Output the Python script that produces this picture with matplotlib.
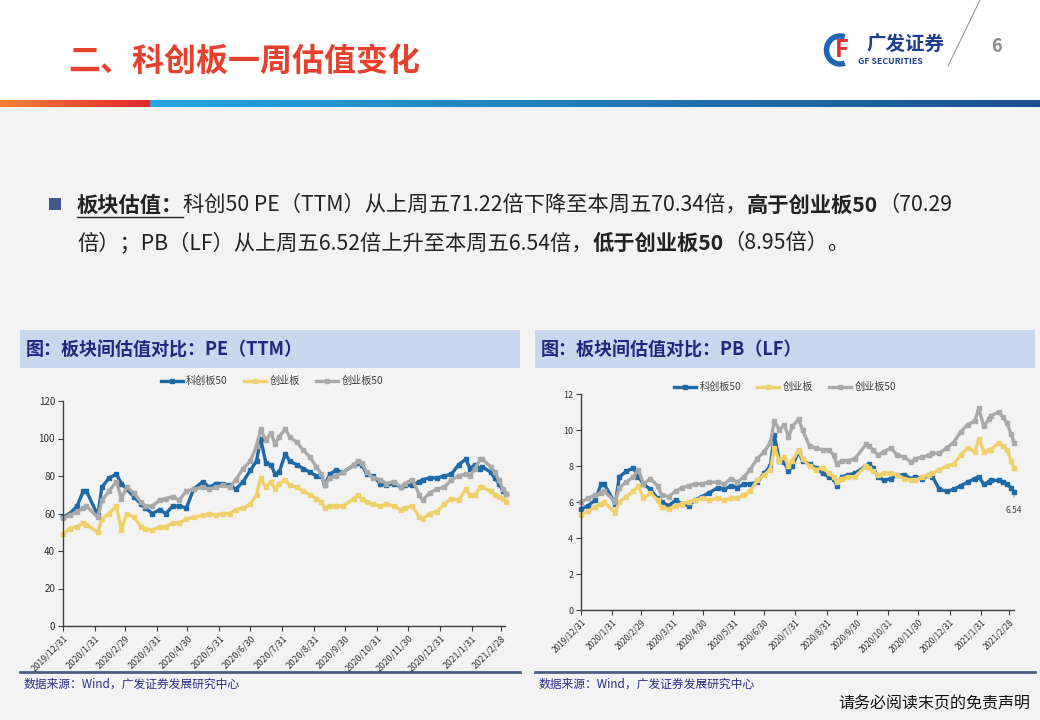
import matplotlib
matplotlib.use("Agg")
import matplotlib.pyplot as plt
import numpy as np
import pandas as pd
from matplotlib.patches import Rectangle, Arc

plt.rcParams['font.family'] = ['Noto Sans CJK SC', 'DejaVu Sans']

# ---- data (weekly-ish samples) ----
dates = ['2019-12-31', '2020-01-07', '2020-01-14', '2020-01-20', '2020-01-23', '2020-02-03',
         '2020-02-07', '2020-02-14', '2020-02-21', '2020-02-26', '2020-03-02', '2020-03-09',
         '2020-03-16', '2020-03-20', '2020-03-27', '2020-04-03', '2020-04-09', '2020-04-16',
         '2020-04-22', '2020-04-29', '2020-05-06', '2020-05-15', '2020-05-21', '2020-05-28',
         '2020-06-03', '2020-06-10', '2020-06-16', '2020-06-23', '2020-06-30', '2020-07-06',
         '2020-07-10', '2020-07-15', '2020-07-20', '2020-07-24', '2020-07-28', '2020-08-03',
         '2020-08-07', '2020-08-14', '2020-08-20', '2020-08-27', '2020-09-02', '2020-09-07',
         '2020-09-10', '2020-09-15', '2020-09-21', '2020-09-28', '2020-10-09', '2020-10-12',
         '2020-10-16', '2020-10-21', '2020-10-27', '2020-11-03', '2020-11-09', '2020-11-16',
         '2020-11-23', '2020-11-27', '2020-12-04', '2020-12-11', '2020-12-14', '2020-12-21',
         '2020-12-28', '2021-01-04', '2021-01-11', '2021-01-18', '2021-01-25', '2021-01-29',
         '2021-02-03', '2021-02-08', '2021-02-10', '2021-02-18', '2021-02-22', '2021-02-26',
         '2021-03-02', '2021-03-05']

pe_kc50 = [58, 60, 64, 72, 72, 59, 74, 79, 81, 76, 73, 69, 65, 63, 60, 62, 60, 64, 64, 63,
           73, 77, 74, 76, 76, 75, 73, 77, 83, 88, 100, 87, 86, 81, 82, 92, 88, 86, 84, 82,
           80, 80, 75, 81, 83, 82, 86, 87, 86, 81, 80, 76, 75, 76, 74, 75, 75, 77, 78, 79,
           79, 80, 81, 86, 89, 84, 86, 84, 85, 82, 79, 76, 72, 70.34]
pe_cyb = [49, 52, 53, 55, 54, 50, 57, 60, 64, 51, 60, 58, 53, 52, 51, 53, 53, 55, 55, 57,
          58, 59, 60, 59, 60, 60, 62, 63, 65, 70, 79, 74, 77, 73, 76, 78, 75, 74, 72, 70,
          68, 66, 63, 64, 64, 64, 68, 70, 68, 66, 65, 64, 65, 64, 62, 63, 64, 58, 57, 60,
          61, 65, 68, 67, 73, 70, 70, 74, 74, 72, 70, 69, 68, 66]
pe_cyb50 = [57.5, 59, 61, 63, 64, 58, 67, 72, 77, 68, 74, 71, 66, 64, 64, 67, 68, 69, 67, 72,
            73, 74, 73, 74, 75, 74, 78, 84, 88, 96, 105, 99, 103, 97, 101, 105, 101, 98, 94, 90,
            85, 81, 75, 79, 80, 82, 86, 88, 87, 82, 79, 78, 76, 77, 74, 76, 78, 70, 67, 71,
            73, 74, 78, 80, 81, 80, 84, 89, 89, 85, 82, 78, 73, 70.3]

pb_kc50 = [5.6, 5.8, 6.1, 7.0, 7.0, 5.9, 7.4, 7.7, 7.9, 7.4, 7.0, 6.7, 6.2, 6.0, 5.8, 6.1, 5.9,
           5.8, 6.1, 6.3, 6.5, 6.8, 6.7, 6.9, 6.8, 7.0, 7.0, 7.1, 7.6, 8.0, 9.7, 8.3, 8.2, 7.7,
           8.0, 8.8, 8.3, 8.1, 7.9, 7.6, 7.4, 7.3, 6.9, 7.4, 7.5, 7.6, 8.0, 8.1, 7.9, 7.4, 7.2,
           7.3, 7.5, 7.5, 7.3, 7.4, 7.3, 7.5, 7.4, 6.7, 6.6, 6.7, 6.9, 7.1, 7.3, 7.4, 7.0, 7.1,
           7.2, 7.2, 7.1, 7.0, 6.8, 6.54]
pb_cyb = [5.3, 5.5, 5.7, 5.9, 6.0, 5.4, 6.0, 6.3, 6.6, 6.9, 6.2, 6.5, 6.1, 5.7, 5.6, 5.8, 5.9,
          6.0, 6.1, 6.2, 6.1, 6.2, 6.1, 6.2, 6.2, 6.4, 6.6, 7.2, 7.5, 7.8, 9.0, 8.3, 8.5, 8.0,
          8.3, 8.9, 8.4, 8.0, 7.8, 7.9, 7.6, 7.4, 7.1, 7.3, 7.4, 7.4, 8.0, 7.9, 7.7, 7.5, 7.6,
          7.6, 7.5, 7.3, 7.2, 7.2, 7.4, 7.5, 7.6, 7.8, 8.0, 8.1, 8.6, 9.0, 8.8, 9.5, 8.8, 8.9,
          8.9, 9.3, 9.1, 8.9, 8.3, 7.9]
pb_cyb50 = [6.0, 6.2, 6.4, 6.5, 6.6, 6.0, 6.8, 7.1, 7.4, 7.8, 7.0, 7.3, 6.9, 6.4, 6.3, 6.6, 6.8,
            6.9, 7.0, 7.0, 7.1, 7.1, 7.0, 7.3, 7.1, 7.4, 7.8, 8.4, 8.8, 9.3, 10.5, 10.0, 10.3, 9.6,
            10.2, 10.6, 10.0, 9.1, 9.0, 8.9, 8.9, 8.6, 8.1, 8.3, 8.3, 8.4, 9.2, 9.1, 8.9, 8.6, 8.8,
            9.0, 8.6, 8.5, 8.2, 8.4, 8.5, 8.6, 8.7, 8.7, 9.0, 9.3, 9.9, 10.3, 10.5, 11.2, 10.2, 10.6,
            10.8, 11.0, 10.7, 10.4, 9.8, 9.3]

series_names = ['科创板50', '创业板', '创业板50']
series_colors = ['#1f6aa6', '#efd06a', '#a9a9a9']

tick_dates = pd.date_range('2019-12-31', '2021-02-28', freq='ME')
tick_labels = [f"{d.year}/{d.month}/{d.day}" for d in tick_dates]

x = pd.to_datetime(dates)

W, H = 1040, 720
fig = plt.figure(figsize=(W / 100, H / 100), dpi=100)
fig.patch.set_facecolor('#f3f3f3')

# slide background in pixel coordinates
bg = fig.add_axes([0, 0, 1, 1], zorder=0)
bg.set_xlim(0, W)
bg.set_ylim(H, 0)
bg.axis('off')

bg.add_patch(Rectangle((0, 0), W, 100, color='white', lw=0))

# colour bar under the header
def hex2rgb(h):
    return np.array([int(h[i:i + 2], 16) / 255 for i in (1, 3, 5)])

cols = []
for px in range(W):
    if px < 150:
        t = px / 150
        c = (1 - t) * hex2rgb('#f38238') + t * hex2rgb('#e2282c')
    else:
        t = (px - 150) / (W - 150)
        c = (1 - t) * hex2rgb('#27a5df') + t * hex2rgb('#1d4f8f')
    cols.append(c)
bar = np.array([cols] * 2)
bg.imshow(bar, extent=(0, W, 107, 100), aspect='auto', interpolation='bilinear')
bg.set_xlim(0, W)
bg.set_ylim(H, 0)

bg.text(68, 62, "二、科创板一周估值变化", fontsize=23, fontweight='bold',
        color='#e5412d', va='center')

# logo
bg.add_patch(Arc((840, 50), 27, 28, theta1=70, theta2=290, lw=4, color='#1f66b3'))
bg.text(842, 50, "F", fontsize=17, fontweight='bold', style='italic', color='#e2302a',
        ha='center', va='center')
bg.text(866, 45, "广发证券", fontsize=14, fontweight='bold', color='#1d3f8c', va='center')
bg.text(858, 62, "GF SECURITIES", fontsize=6.3, fontweight='bold', color='#1d3f8c', va='center')
bg.plot([948, 980], [66, 0], color='#9a9a9a', lw=0.8)
bg.text(996, 47, "6", fontsize=13, fontweight='bold', color='#8a8a8a', ha='center', va='center')

# bullet text
bg.add_patch(Rectangle((49, 198), 12, 12, color='#3e5b8c', lw=0))
renderer = fig.canvas.get_renderer()


def rich_line(x0, y0, parts, size):
    for s, bold, ul in parts:
        t = bg.text(x0, y0, s, fontsize=size, fontweight='bold' if bold else 'normal',
                    color='#222222', va='center', ha='left')
        w = t.get_window_extent(renderer=renderer).width
        if ul:
            bg.plot([x0, x0 + w], [y0 + 12, y0 + 12], color='#222222', lw=1)
        x0 += w
    return x0


fs = 15.3
rich_line(77, 205, [("板块估值：", True, True),
                    ("科创50 PE（TTM）从上周五71.22倍下降至本周五70.34倍，", False, False),
                    ("高于创业板50", True, False), ("（70.29", False, False)], fs)
rich_line(77, 243, [("倍）；PB（LF）从上周五6.52倍上升至本周五6.54倍，", False, False),
                    ("低于创业板50", True, False), ("（8.95倍）。", False, False)], fs)

# panel headers and footers
for x0, title in [(20, "图：板块间估值对比：PE（TTM）"), (535, "图：板块间估值对比：PB（LF）")]:
    bg.add_patch(Rectangle((x0, 330), 500, 38, color='#c7d7ee', lw=0))
    bg.text(x0 + 6, 350, title, fontsize=13, fontweight='bold', color='#1f2a7c', va='center')
    bg.plot([x0, x0 + 500], [672, 672], color='#4d5d85', lw=2)
    bg.text(x0 + 4, 684, "数据来源：Wind，广发证券发展研究中心", fontsize=8.5,
            color='#2b2f86', va='center')

bg.text(1030, 704, "请务必阅读末页的免责声明", fontsize=11.5, ha='right', va='center',
        color='#111111')


def style_axes(ax, tsize):
    for s in ['top', 'right']:
        ax.spines[s].set_visible(False)
    for s in ['left', 'bottom']:
        ax.spines[s].set_color('#404040')
        ax.spines[s].set_linewidth(1)
    ax.set_facecolor('none')
    ax.set_xticks(tick_dates)
    ax.set_xticklabels(tick_labels, rotation=45, ha='right', rotation_mode='anchor',
                       fontsize=tsize, color='#333333')
    ax.tick_params(axis='both', direction='out', length=3.5, color='#404040', pad=2)
    ax.tick_params(axis='y', labelsize=tsize + 0.5, labelcolor='#333333')


# left chart: PE
ax1 = fig.add_axes([62.7 / W, 1 - 626 / H, (505 - 62.7) / W, 225 / H], zorder=2)
for vals, name, col in zip([pe_kc50, pe_cyb, pe_cyb50], series_names, series_colors):
    ax1.plot(x, vals, color=col, lw=2.4, marker='s', ms=3, label=name, clip_on=False)
ax1.set_ylim(0, 120)
ax1.set_yticks(range(0, 121, 20))
ax1.set_xlim(pd.Timestamp('2019-12-31'), pd.Timestamp('2021-03-04'))
style_axes(ax1, 6.5)
ax1.legend(loc='center', bbox_to_anchor=(0.473, 1.089), ncol=3, frameon=False, fontsize=7.3,
           numpoints=1, handlelength=2.2, columnspacing=1.6, handletextpad=0.3,
           labelcolor='#404040')
ax1.annotate('70.34', xy=(x[-1], pe_kc50[-1]), xytext=(0, 27), textcoords='offset points',
             fontsize=6.5, ha='center', va='center', color='#404040',
             arrowprops=dict(arrowstyle='-', color='#808080', lw=0.6, shrinkA=4, shrinkB=2))

# right chart: PB
ax2 = fig.add_axes([581 / W, 1 - 610 / H, 433 / W, 216 / H], zorder=2)
for vals, name, col in zip([pb_kc50, pb_cyb, pb_cyb50], series_names, series_colors):
    ax2.plot(x, vals, color=col, lw=2.4, marker='s', ms=3, label=name, clip_on=False)
ax2.set_ylim(0, 12)
ax2.set_yticks(range(0, 13, 2))
ax2.set_xlim(pd.Timestamp('2019-12-31'), pd.Timestamp('2021-03-05'))
style_axes(ax2, 6)
ax2.legend(loc='center', bbox_to_anchor=(0.471, 1.032), ncol=3, frameon=False, fontsize=7.3,
           numpoints=1, handlelength=2.2, columnspacing=1.6, handletextpad=0.3,
           labelcolor='#404040')
ax2.annotate('6.54', xy=(x[-1], pb_kc50[-1]), xytext=(0, -13), textcoords='offset points',
             fontsize=6, ha='center', va='center', color='#404040',
             arrowprops=dict(arrowstyle='-', color='#808080', lw=0.6, shrinkA=4, shrinkB=2))

fig.savefig('out.png', dpi=100, facecolor=fig.get_facecolor())
